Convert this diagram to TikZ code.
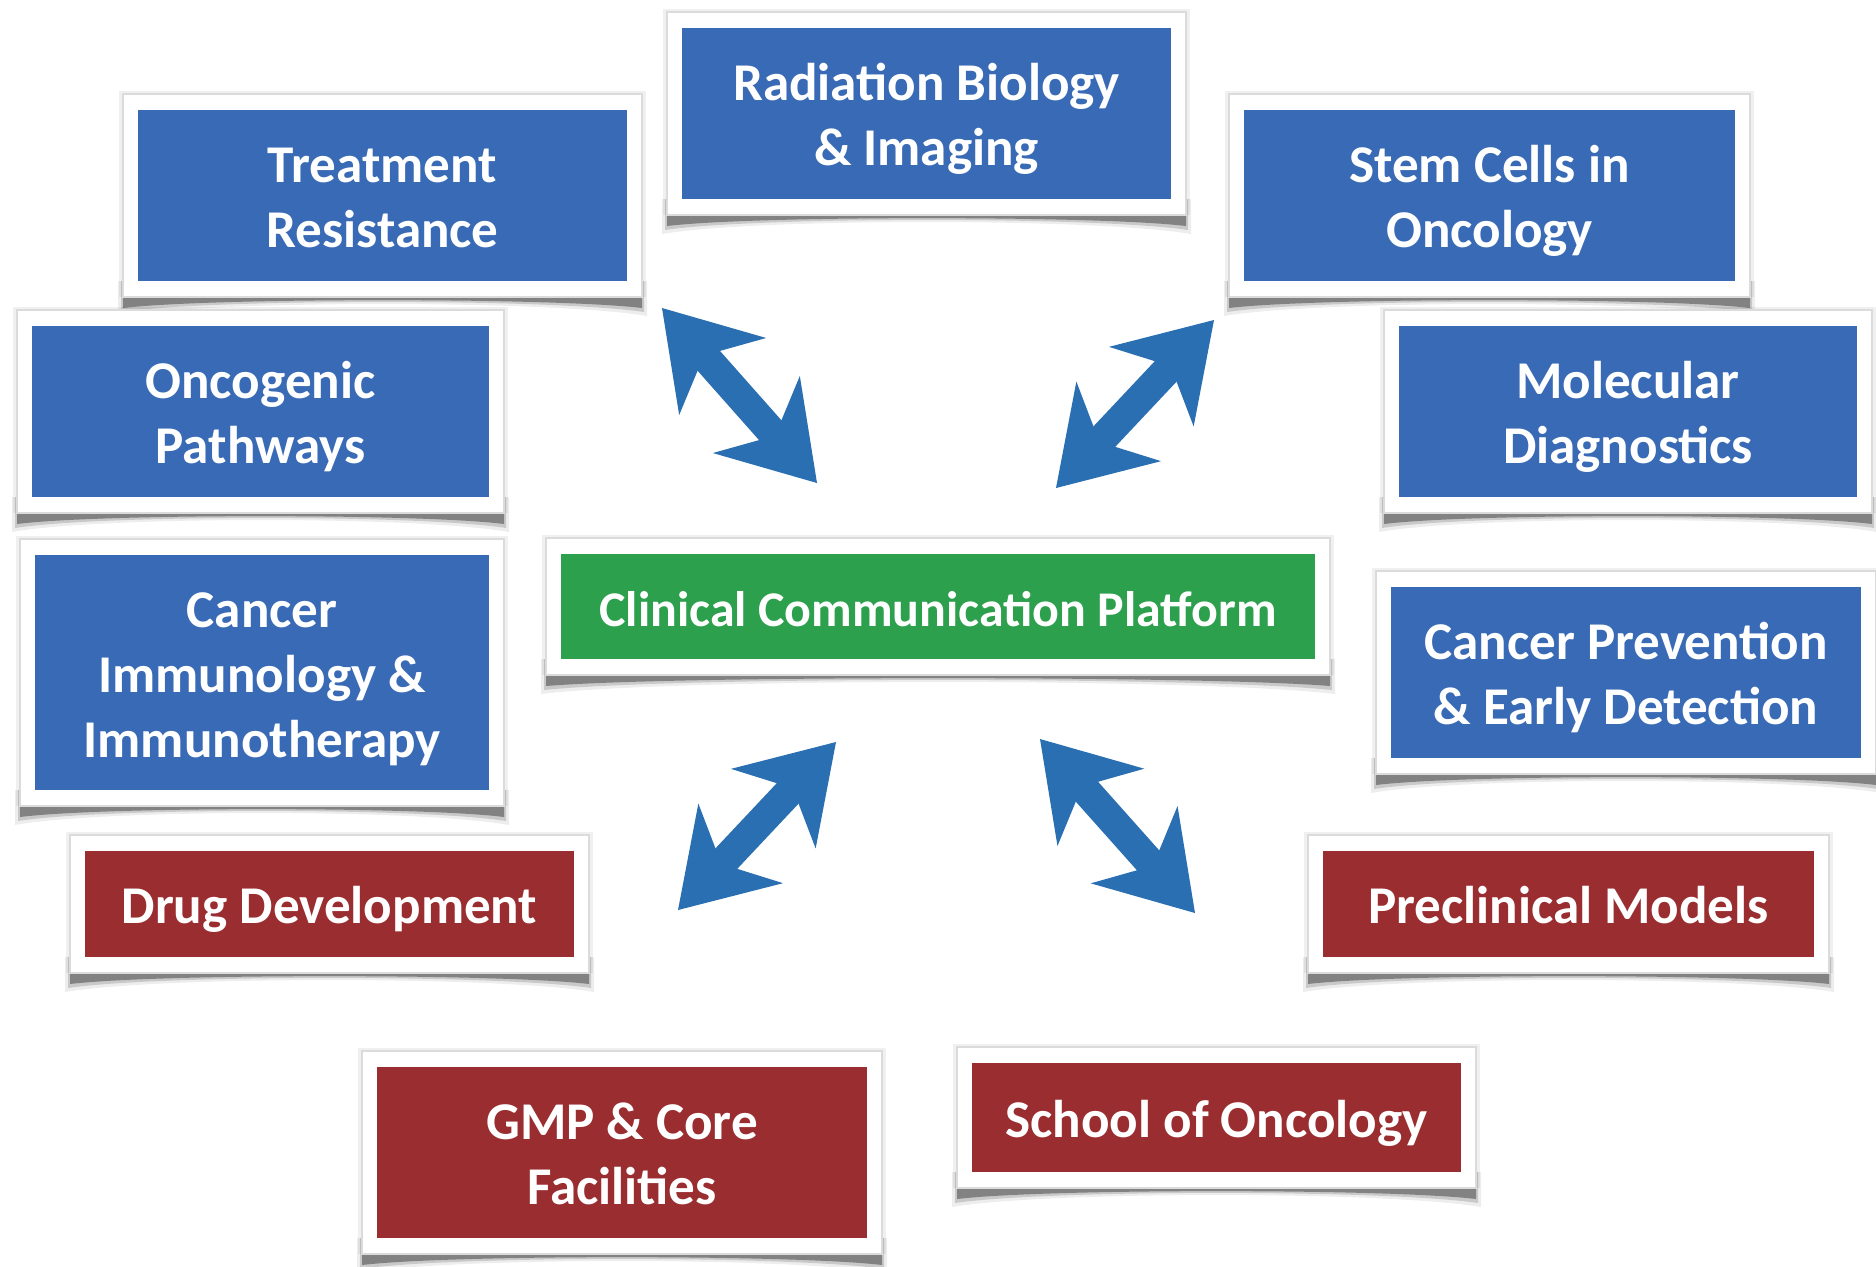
\documentclass[tikz,border=0pt]{standalone}
\usepackage{fontspec}
\setmainfont{Carlito}
\usetikzlibrary{arrows.meta}
\definecolor{boxblue}{HTML}{396AB5}
\definecolor{boxred}{HTML}{9A2D30}
\definecolor{boxgreen}{HTML}{2CA04C}
\definecolor{arrowblue}{HTML}{2A6FB2}
\newcommand\ftop{\rule{0pt}{15.25pt}}
\newcommand\fbot{\rule[-4pt]{0pt}{4pt}}
\tikzset{
  panelbox/.style={text=white, inner sep=0pt, align=center,
    font=\fontsize{15.1}{18.4}\selectfont\bfseries},
  centerfont/.style={font=\fontsize{14.2}{17}\selectfont\bfseries},
  bigarrow/.style={draw=arrowblue, line width=8.5pt,
    {Stealth[length=26pt,width=33pt,inset=8pt,line width=0.5pt]}-{Stealth[length=26pt,width=33pt,inset=8pt,line width=0.5pt]}}
}
\newcommand\panel[8][]{%
  \pgfmathsetmacro\pnw{(#5-#3)*0.01}%
  \pgfmathsetmacro\pnh{(#6-#4)*0.01}%
  \pgfmathsetmacro\pnq{(#5-#3)*0.15}%
  \fill[black, opacity=.07] (#3-20,#6) -- (#3-20,#6+35) .. controls (#3+\pnq,#6+19) and (#5-\pnq,#6+19) .. (#5+20,#6+35) -- (#5+20,#6) -- cycle;
  \fill[black, opacity=.15] (#3-17,#6) -- (#3-17,#6+31) .. controls (#3+\pnq,#6+17.5) and (#5-\pnq,#6+17.5) .. (#5+17,#6+31) -- (#5+17,#6) -- cycle;
  \fill[black, opacity=.35] (#3-15,#6) -- (#3-15,#6+27) .. controls (#3+\pnq,#6+16.5) and (#5-\pnq,#6+16.5) .. (#5+15,#6+27) -- (#5+15,#6) -- cycle;
  \fill[black, opacity=.06] (#3-19,#4-19) rectangle (#5+19,#6+16);
  \fill[white, draw=black!14, line width=0.5pt] (#3-15,#4-16) rectangle (#5+15,#6+16);
  \node[panelbox, fill=#7, minimum width=\pnw cm, minimum height=\pnh cm, #1] (#2) at ({(#3+#5)/2},{(#4+#6)/2}) {\ftop#8\fbot};
}
\begin{document}
\begin{tikzpicture}[x=0.01cm,y=-0.01cm]
\fill[white] (0,0) rectangle (1876,1266);
\useasboundingbox (0,0) rectangle (1876,1266);

\panel{rad}{682}{28}{1171}{199}{boxblue}{Radiation Biology\\\& Imaging}
\panel{treat}{138}{110}{627}{281}{boxblue}{Treatment\\Resistance}
\panel{stem}{1244}{110}{1735}{281}{boxblue}{Stem Cells in\\Oncology}
\panel{onco}{32}{326}{489}{497}{boxblue}{Oncogenic\\Pathways}
\panel{molec}{1399}{326}{1857}{497}{boxblue}{Molecular\\Diagnostics}
\panel[centerfont]{clin}{561}{554}{1315}{659}{boxgreen}{Clinical Communication Platform}
\panel{immuno}{35}{555}{489}{790}{boxblue}{Cancer\\Immunology \&\\Immunotherapy}
\panel{prev}{1391}{587}{1861}{758}{boxblue}{Cancer Prevention\\\& Early Detection}
\panel{drug}{85}{851}{574}{957}{boxred}{Drug Development}
\panel{precl}{1323}{851}{1814}{957}{boxred}{Preclinical Models}
\panel{school}{972}{1063}{1461}{1172}{boxred}{School of Oncology}
\panel{gmp}{377}{1067}{867}{1238}{boxred}{GMP \& Core\\Facilities}

\coordinate (a1s) at (662,308);  \coordinate (a1e) at (817,483);
\coordinate (a2s) at (1214,320); \coordinate (a2e) at (1056,488);
\coordinate (a3s) at (836,742);  \coordinate (a3e) at (678,910);
\coordinate (a4s) at (1040,739); \coordinate (a4e) at (1195,913);
\draw[bigarrow] (a1s) -- (a1e);
\draw[bigarrow] (a2s) -- (a2e);
\draw[bigarrow] (a3s) -- (a3e);
\draw[bigarrow] (a4s) -- (a4e);
\end{tikzpicture}
\end{document}
